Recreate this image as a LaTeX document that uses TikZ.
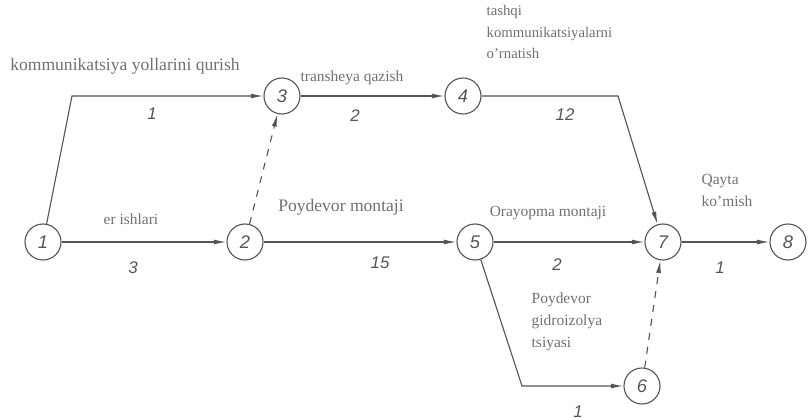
\documentclass[tikz,border=0pt]{standalone}
\usepackage{fontspec}
\setmainfont{Liberation Serif}
\newfontfamily\numfont{Liberation Sans}
\usetikzlibrary{arrows.meta}
\definecolor{ink}{HTML}{555555}
\definecolor{txt}{HTML}{707070}

\begin{document}
\begin{tikzpicture}[
 x=0.025cm,y=-0.025cm,font=\fontsize{11}{15.5}\selectfont,text=txt,
 event/.style={circle,draw=ink,line width=.8pt,minimum size=.9cm,inner sep=0pt,font=\numfont\itshape\fontsize{13}{13}\selectfont,text=ink},
 flow/.style={-{Latex[length=9pt,width=3.5pt]},draw=ink,line width=.8pt},
 dummy/.style={flow,dash pattern=on 5pt off 5pt},
 lab/.style={align=center,inner sep=1pt},
 blk/.style={align=left,anchor=west,inner sep=1pt},
 dur/.style={font=\numfont\itshape\fontsize{12}{12}\selectfont,text=ink,inner sep=1pt}
]
\useasboundingbox (0,0) rectangle (810,420);

% events
\node[event] (n1) at (43,242) {1};
\node[event] (n2) at (245,242) {2};
\node[event] (n3) at (282,96) {3};
\node[event] (n4) at (463,96) {4};
\node[event] (n5) at (475,242) {5};
\node[event] (n6) at (642,386) {6};
\node[event] (n7) at (663,242) {7};
\node[event] (n8) at (788,242) {8};
\coordinate (c13) at (72,96);
\coordinate (c47) at (618,96);
\coordinate (c56) at (522,386);

% works
\draw[flow] (n1) -- (c13) -- (n3);
\draw[flow] (n3) -- (n4);
\draw[flow] (n4) -- (c47) -- (n7);
\draw[flow] (n1) -- (n2);
\draw[dummy] (n2) -- (n3);
\draw[flow] (n2) -- (n5);
\draw[flow] (n5) -- (n7);
\draw[flow] (n5) -- (c56) -- (n6);
\draw[dummy] (n6) -- (n7);
\draw[flow] (n7) -- (n8);

% labels
\node[lab,font=\fontsize{12.5}{15}\selectfont] (l13) at (125,66) {kommunikatsiya yollarini qurish};
\node[dur] (d13) at (152,114) {1};
\node[lab] (l34) at (352,78) {transheya qazish};
\node[dur] (d34) at (355,116) {2};
\node[blk,anchor=north west,font=\fontsize{10.5}{15}\selectfont] (l47) at (485,4) {tashqi\\kommunikatsiyalarni\\o'rnatish};
\node[dur] (d47) at (565,115) {12};
\node[lab] (l12) at (131,219) {er ishlari};
\node[dur] (d12) at (133,268) {3};
\node[lab,font=\fontsize{12.5}{15}\selectfont] (l25) at (341,207) {Poydevor montaji};
\node[dur] (d25) at (380,263) {15};
\node[lab] (l57) at (548,213) {Orayopma montaji};
\node[dur] (d57) at (557,265) {2};
\node[blk,anchor=north west] (l78) at (700,173) {Qayta\\ko'mish};
\node[dur] (d78) at (720,268) {1};
\node[blk,anchor=north west] (l56) at (530,291) {Poydevor\\gidroizolya\\tsiyasi};
\node[dur] (d56) at (578,412) {1};
\end{tikzpicture}
\end{document}
